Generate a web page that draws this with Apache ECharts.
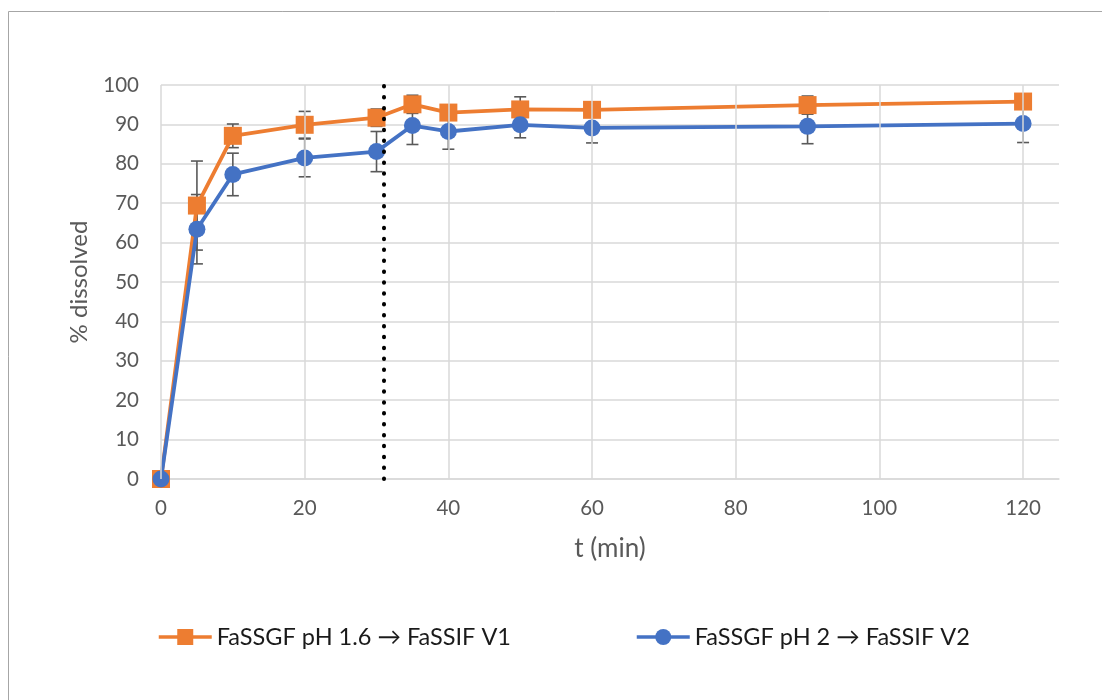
<!DOCTYPE html>
<html>
<head>
<meta charset="utf-8">
<title>Dissolution profile</title>
<script src="https://cdn.jsdelivr.net/npm/echarts@6/dist/echarts.min.js"></script>
<style>
  html, body { margin: 0; padding: 0; background: #ffffff; }
  #chart { width: 1102px; height: 700px; }
</style>
</head>
<body>
<div id="chart"></div>
<script>
// Sampling times (min)
const times = [0, 5, 10, 20, 30, 35, 40, 50, 60, 90, 120];

// FaSSGF pH 1.6 -> FaSSIF V1: mean % dissolved and SD
const seriesAName = 'FaSSGF pH 1.6 → FaSSIF V1';
const seriesAMean = [0, 69.4, 87.1, 89.9, 91.7, 95.1, 93.0, 93.8, 93.7, 94.9, 95.8];
const seriesASd   = [0, 11.3, 3.0, 3.4, 2.2, 2.3, 1.0, 3.2, 1.0, 2.3, 1.0];

// FaSSGF pH 2 -> FaSSIF V2: mean % dissolved and SD
const seriesBName = 'FaSSGF pH 2 → FaSSIF V2';
const seriesBMean = [0, 63.4, 77.3, 81.5, 83.1, 89.7, 88.2, 89.9, 89.1, 89.5, 90.2];
const seriesBSd   = [0, 8.8, 5.4, 4.8, 5.1, 4.8, 4.5, 3.3, 3.8, 4.4, 4.8];

// Time of the medium change (gastric -> intestinal)
const mediumSwitchTime = 31;

// Axis ticks
const xTicks = [0, 20, 40, 60, 80, 100, 120];
const yMin = 0, yMax = 100, yStep = 10;
const xMin = 0, xMax = 125, xStep = 20;

const ORANGE = '#ED7D31';
const BLUE = '#4472C4';
const GRID = '#d9d9d9';
const TEXT = '#595959';
const FONT = 'Lato, "Open Sans", sans-serif';

function pairs(xs, ys) { return xs.map((x, i) => [x, ys[i]]); }
function errTriples(xs, ys, sd) { return xs.map((x, i) => [x, ys[i], sd[i]]); }

// Error bars: vertical whisker with caps, drawn in axis coordinates
function renderErrorBar(params, api) {
  const x = api.value(0), m = api.value(1), e = api.value(2);
  if (!e) return null;
  const top = api.coord([x, m + e]);
  const bot = api.coord([x, m - e]);
  const half = 6;
  const style = { stroke: '#595959', lineWidth: 1.6 };
  return {
    type: 'group',
    children: [
      { type: 'line', shape: { x1: top[0], y1: top[1], x2: bot[0], y2: bot[1] }, style },
      { type: 'line', shape: { x1: top[0] - half, y1: top[1], x2: top[0] + half, y2: top[1] }, style },
      { type: 'line', shape: { x1: bot[0] - half, y1: bot[1], x2: bot[0] + half, y2: bot[1] }, style }
    ]
  };
}

const chart = echarts.init(document.getElementById('chart'), null, { renderer: 'canvas' });

const legendBase = {
  top: 620, itemGap: 6, itemWidth: 53, itemHeight: 20,
  lineStyle: { width: 3.5 },
  textStyle: { fontSize: 23.5, color: '#1a1a1a', fontFamily: FONT }
};

chart.setOption({
  animation: false,
  backgroundColor: '#ffffff',
  textStyle: { fontFamily: FONT },
  graphic: [{
    type: 'rect',
    shape: { x: 8.5, y: 11.5, width: 1110, height: 720 },
    style: { fill: 'none', stroke: '#a6a6a6', lineWidth: 1 },
    silent: true
  }],
  grid: { left: 161, right: 43, top: 85, bottom: 221, containLabel: false },
  legend: [
    Object.assign({}, legendBase, { data: [seriesAName], left: 152 }),
    Object.assign({}, legendBase, { data: [seriesBName], left: 630 })
  ],
  xAxis: {
    type: 'value', min: xMin, max: xMax, interval: xStep,
    name: 't (min)', nameLocation: 'middle', nameGap: 57,
    nameTextStyle: { fontSize: 26, color: TEXT, fontFamily: FONT },
    axisLine: { show: true, lineStyle: { color: GRID, width: 1.5 } },
    axisTick: { show: false },
    axisLabel: { fontSize: 20.5, color: TEXT, margin: 19, showMaxLabel: false, fontFamily: FONT },
    splitLine: { show: false }
  },
  yAxis: {
    type: 'value', min: yMin, max: yMax, interval: yStep,
    name: '% dissolved', nameLocation: 'middle', nameGap: 70,
    nameTextStyle: { fontSize: 24, color: TEXT, fontFamily: FONT },
    axisLine: { show: false },
    axisTick: { show: false },
    axisLabel: { fontSize: 20.5, color: TEXT, margin: 22, fontFamily: FONT },
    splitLine: { show: true, lineStyle: { color: GRID, width: 1.5 } }
  },
  series: [
    {
      // vertical gridlines at the labelled ticks
      name: 'xgrid', type: 'line', data: [], z: 0, silent: true,
      markLine: {
        silent: true, symbol: 'none', label: { show: false },
        lineStyle: { color: GRID, width: 1.5, type: 'solid' },
        data: xTicks.map(v => ({ xAxis: v }))
      }
    },
    {
      name: 'errA', type: 'custom', renderItem: renderErrorBar,
      data: errTriples(times, seriesAMean, seriesASd), z: 1, silent: true
    },
    {
      name: 'errB', type: 'custom', renderItem: renderErrorBar,
      data: errTriples(times, seriesBMean, seriesBSd), z: 1, silent: true
    },
    {
      name: seriesAName, type: 'line', data: pairs(times, seriesAMean),
      symbol: 'rect', symbolSize: 18, z: 3,
      lineStyle: { color: ORANGE, width: 3.8 },
      itemStyle: { color: ORANGE },
      showAllSymbol: true
    },
    {
      name: seriesBName, type: 'line', data: pairs(times, seriesBMean),
      symbol: 'circle', symbolSize: 17, z: 4,
      lineStyle: { color: BLUE, width: 3.8 },
      itemStyle: { color: BLUE },
      showAllSymbol: true
    },
    {
      // medium change marker
      name: 'switch', type: 'line', data: [], z: 6, silent: true,
      markLine: {
        silent: true, symbol: 'none', label: { show: false },
        lineStyle: { color: '#000000', width: 4, type: [0.5, 10.4], cap: 'round' },
        data: [{ xAxis: mediumSwitchTime }]
      }
    }
  ]
});
</script>
</body>
</html>
